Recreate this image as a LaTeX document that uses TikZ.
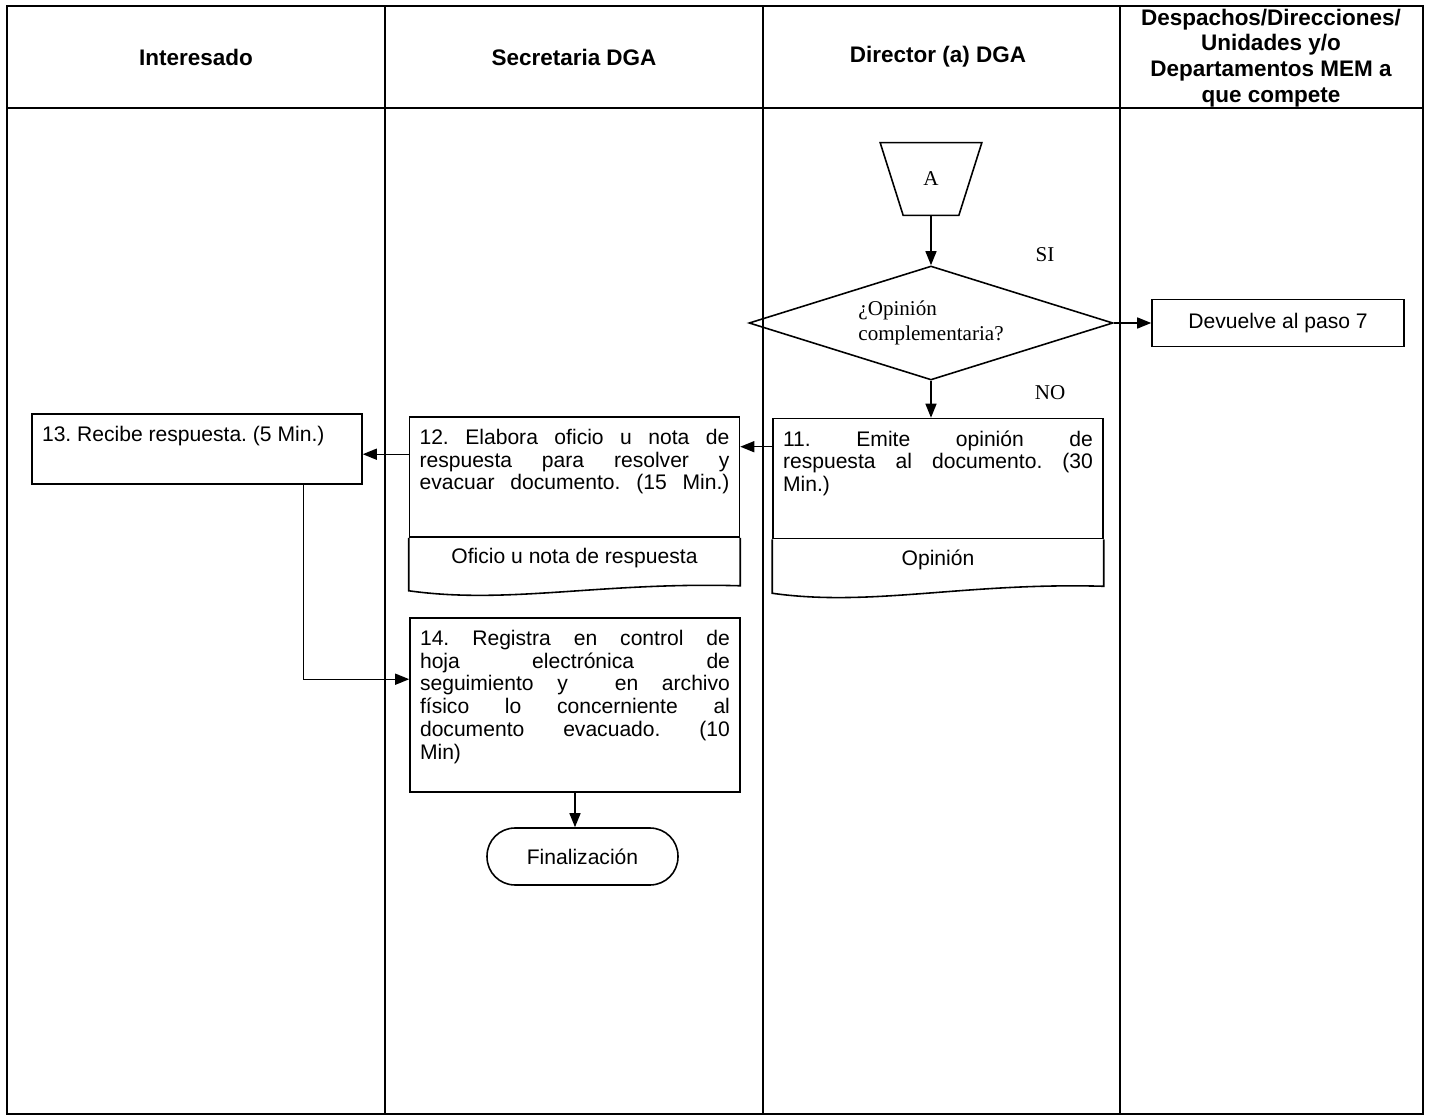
\documentclass[tikz,border=0pt]{standalone}
\usepackage{fontspec}
\setmainfont{Liberation Sans}
\newfontfamily\romana{Liberation Serif}
\usetikzlibrary{shapes.geometric,arrows.meta,calc}

\frenchspacing
\newcommand{\cuerpo}{\fontsize{12}{13}\selectfont}
\newcommand{\titulo}{\fontsize{12.8}{14.7}\selectfont\bfseries}
\newcommand{\serif}{\romana\fontsize{12}{14}\selectfont}
\newcommand{\paso}[2]{\parbox[c][#1][t]{6.2cm}{\cuerpo #2}}

\tikzset{
  carril/.style={line width=1pt},
  caja/.style={draw, line width=0.9pt, inner xsep=0.2cm, inner ysep=0.24cm},
  borde/.style={line width=0.9pt},
  flecha/.style={line width=0.8pt, -{Triangle[length=0.28cm,width=0.22cm]}},
  etiqueta/.style={font=\serif}
}

\begin{document}
\begin{tikzpicture}[x=0.02cm,y=-0.02cm]
\useasboundingbox (0,0) rectangle (1431,1118);
% Carriles
\draw[carril] (7,6) rectangle (1423,1114);
\draw[carril] (7,108) -- (1423,108);
\foreach \x in {385,763,1120} \draw[carril] (\x,6) -- (\x,1114);

% Encabezados
\node[font=\titulo] (hInt) at (196,57) {Interesado};
\node[font=\titulo] (hSec) at (574,57) {Secretaria DGA};
\node[font=\titulo] (hDir) at (938,57) {Director (a) DGA};
\node[font=\titulo, align=center] (hDep) at (1271,58) {Despachos/Direcciones/\\Unidades y/o\\Departamentos MEM a\\que compete};

% Director
\node[minimum width=1.1cm, minimum height=1.44cm, inner sep=0pt, font=\serif] (conA) at (931,179) {A};
\draw[borde] ([xshift=-0.46cm]conA.north west) -- ([xshift=0.46cm]conA.north east) -- (conA.south east) -- (conA.south west) -- cycle;
\node[draw, borde, diamond, aspect=3.2, minimum width=7.28cm, minimum height=2.28cm, inner sep=0pt,
      align=left, font=\serif] (dec) at (931,323) {¿Opinión\\complementaria?};
\node[etiqueta] (si) at (1045,255) {SI};
\node[etiqueta] (no) at (1050,393) {NO};
\node[draw, borde, minimum width=5.04cm, minimum height=0.94cm, font=\cuerpo] (dev) at (1278,323) {Devuelve al paso 7};

\node[caja] (box11) at (938,478.5) {\paso{1.92cm}{11.\ Emite opinión de\linebreak respuesta al documento. (30\linebreak Min.)}};
\node[minimum width=6.6cm, minimum height=0.8cm, inner sep=0pt, font=\cuerpo, anchor=north] (doc11) at (box11.south) {Opinión};
\draw[borde] (box11.south west) -- ++(0,54) .. controls +(100,14) and +(-140,-4) .. ($(box11.south east)+(0,47)$) -- (box11.south east);

% Secretaria
\node[caja] (box12) at (574.5,477) {\paso{1.92cm}{\parfillskip=0pt 12.\ Elabora oficio u nota de\linebreak respuesta para resolver y\linebreak evacuar documento. (15 Min.)}};
\node[minimum width=6.6cm, minimum height=0.8cm, inner sep=0pt, font=\cuerpo, anchor=north] (doc12) at (box12.south) {Oficio u nota de respuesta};
\draw[borde] (box12.south west) -- ++(0,53) .. controls +(100,14) and +(-140,-4) .. ($(box12.south east)+(0,48)$) -- (box12.south east);

\node[caja] (box14) at (575,705) {\paso{3.0cm}{14.\ Registra en control de\linebreak hoja electrónica de\linebreak seguimiento y\ \ en archivo\linebreak físico lo concerniente al\linebreak documento evacuado. (10\linebreak Min)}};
\node[draw, borde, rounded corners=0.56cm, minimum width=3.82cm, minimum height=1.14cm, font=\cuerpo] (fin) at (582.5,856.5) {Finalización};

% Interesado
\node[caja] (box13) at (197,449) {\paso{0.92cm}{13.\ Recibe respuesta. (5 Min.)}};

% Conectores
\draw[flecha] (conA) -- (dec);
\draw[flecha] (dec) -- (dev);
\draw[flecha] (dec.south) -- (dec.south |- box11.north);
\coordinate (s11) at ([yshift=-0.58cm]box11.north west);
\draw[flecha] (s11) -- (s11 -| box12.east);
\coordinate (s12) at ([yshift=-0.76cm]box12.north west);
\draw[flecha] (s12) -- (s12 -| box13.east);
\coordinate (b13) at ([xshift=-1.18cm]box13.south east);
\coordinate (e14) at ([yshift=-1.24cm]box14.north west);
\draw[flecha] (b13) |- (e14);
\draw[flecha] (box14.south) -- (box14.south |- fin.north);
\end{tikzpicture}
\end{document}
